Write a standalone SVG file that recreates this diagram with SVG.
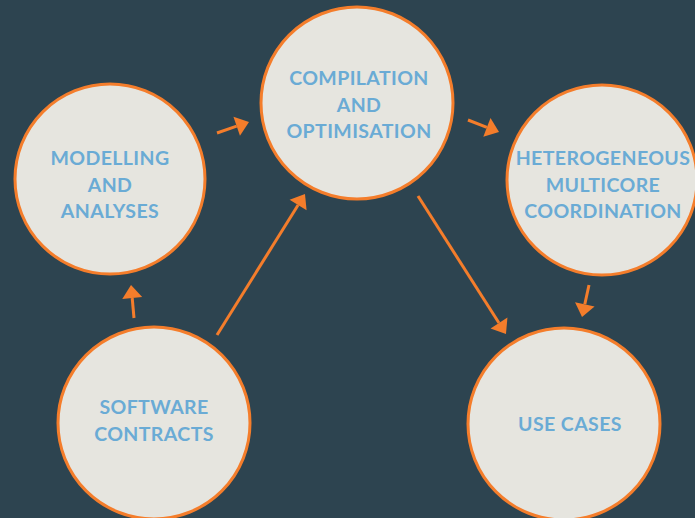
<svg xmlns="http://www.w3.org/2000/svg" width="695" height="518" viewBox="0 0 695 518">
<defs>
<style>
.node circle{fill:#e6e5df;stroke:#f47d2b;stroke-width:3}
.node text{font-family:Lato,"Liberation Sans",sans-serif;font-weight:bold;font-size:19.5px;letter-spacing:0.4px;fill:#6aabd5;text-anchor:middle}
.conn line{stroke:#f47d2b;stroke-width:3;fill:none}
</style>
<marker id="ah" markerUnits="userSpaceOnUse" markerWidth="14" markerHeight="20" refX="0" refY="10" orient="auto" overflow="visible">
<path d="M0,0 L13,10 L0,20 Z" fill="#f47d2b"/>
</marker>
</defs>
<rect width="695" height="518" fill="#2d4450"/>
<g id="connectors" class="conn">
<line x1="217" y1="133" x2="236.7" y2="126.2" marker-end="url(#ah)"/>
<line x1="217" y1="335" x2="298.1" y2="205" marker-end="url(#ah)"/>
<line x1="468" y1="120" x2="486.9" y2="127.3" marker-end="url(#ah)"/>
<line x1="418" y1="196" x2="499" y2="323" marker-end="url(#ah)"/>
<line x1="589" y1="285" x2="584.8" y2="304.3" marker-end="url(#ah)"/>
<line x1="134" y1="318" x2="132.2" y2="298" marker-end="url(#ah)"/>
</g>
<g id="modelling" class="node">
<circle cx="110" cy="179" r="95"/>
<text x="110" y="165">MODELLING</text>
<text x="110" y="192">AND</text>
<text x="110" y="218">ANALYSES</text>
</g>
<g id="compilation" class="node">
<circle cx="357" cy="103" r="96"/>
<text x="359" y="85">COMPILATION</text>
<text x="359" y="112">AND</text>
<text x="359" y="138">OPTIMISATION</text>
</g>
<g id="heterogeneous" class="node">
<circle cx="602" cy="180" r="95"/>
<text x="603" y="165">HETEROGENEOUS</text>
<text x="603" y="192">MULTICORE</text>
<text x="603" y="218">COORDINATION</text>
</g>
<g id="software" class="node">
<circle cx="154" cy="423" r="96"/>
<text x="154" y="414">SOFTWARE</text>
<text x="154" y="441">CONTRACTS</text>
</g>
<g id="usecases" class="node">
<circle cx="564" cy="424" r="96"/>
<text x="570" y="431">USE CASES</text>
</g>
</svg>
